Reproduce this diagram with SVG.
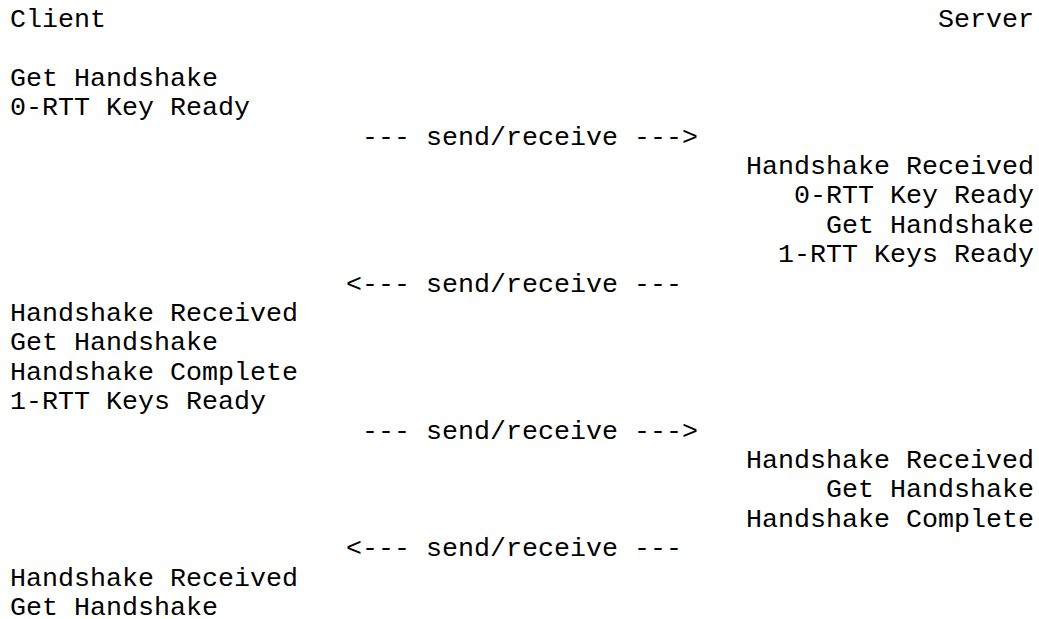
<svg xmlns="http://www.w3.org/2000/svg" width="1039" height="619" viewBox="0 0 1039 619">
<style>
text { font-family: "Liberation Mono", "Courier New", monospace; font-size: 26.67px; fill: #000; white-space: pre; }
.r { text-anchor: end; }
</style>
<rect x="0" y="0" width="1039" height="619" fill="#fff"/>
<g id="header">
<text x="10" y="27">Client</text>
<text class="r" x="1034" y="27">Server</text>
</g>
<g id="client-step-1">
<text x="10" y="85.8">Get Handshake</text>
<text x="10" y="115.2">0-RTT Key Ready</text>
</g>
<g id="server-step-1">
<text class="r" x="1034" y="174">Handshake Received</text>
<text class="r" x="1034" y="203.4">0-RTT Key Ready</text>
<text class="r" x="1034" y="232.8">Get Handshake</text>
<text class="r" x="1034" y="262.2">1-RTT Keys Ready</text>
</g>
<g id="client-step-2">
<text x="10" y="321">Handshake Received</text>
<text x="10" y="350.4">Get Handshake</text>
<text x="10" y="379.8">Handshake Complete</text>
<text x="10" y="409.2">1-RTT Keys Ready</text>
</g>
<g id="server-step-2">
<text class="r" x="1034" y="468">Handshake Received</text>
<text class="r" x="1034" y="497.4">Get Handshake</text>
<text class="r" x="1034" y="526.8">Handshake Complete</text>
</g>
<g id="client-step-3">
<text x="10" y="585.6">Handshake Received</text>
<text x="10" y="615">Get Handshake</text>
</g>
<g id="connectors">
<text x="362" y="144.6">--- send/receive ---&gt;</text>
<text x="346" y="291.6">&lt;--- send/receive ---</text>
<text x="362" y="438.6">--- send/receive ---&gt;</text>
<text x="346" y="556.2">&lt;--- send/receive ---</text>
</g>
</svg>
